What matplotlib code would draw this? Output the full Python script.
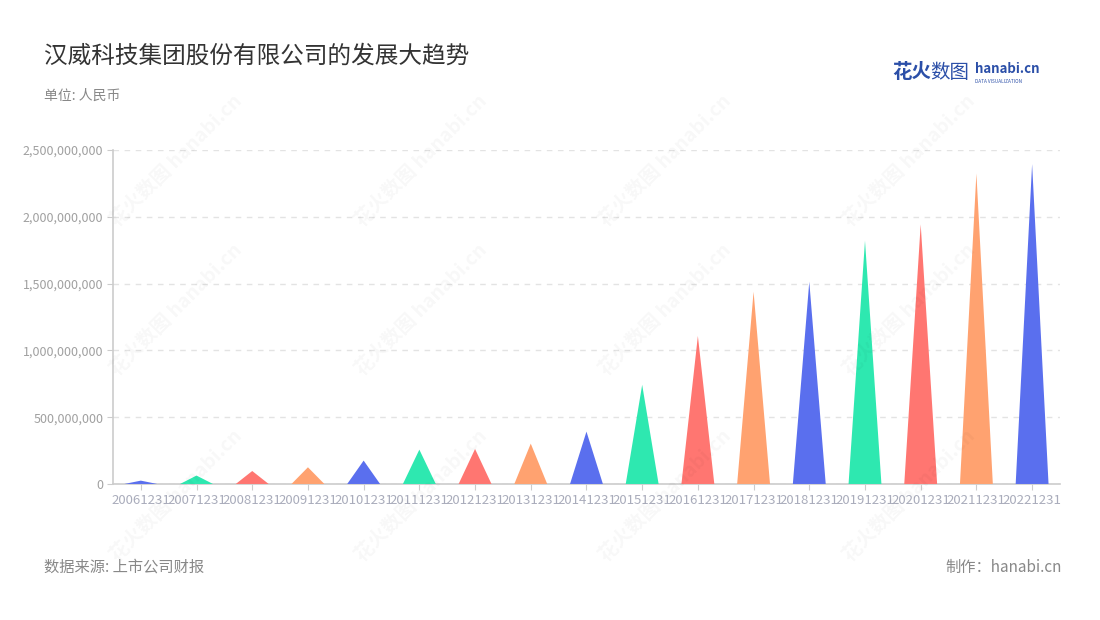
import numpy as np
import matplotlib
matplotlib.use('Agg')
import matplotlib.pyplot as plt
from matplotlib.ticker import FuncFormatter

plt.rcParams['font.family'] = ['Noto Sans CJK SC', 'DejaVu Sans']

# data
years = ['20061231', '20071231', '20081231', '20091231', '20101231', '20111231',
         '20121231', '20131231', '20141231', '20151231', '20161231', '20171231',
         '20181231', '20191231', '20201231', '20211231', '20221231']
values = [25e6, 63e6, 97e6, 125e6, 175e6, 257e6, 262e6, 302e6, 392e6,
          742e6, 1108e6, 1439e6, 1514e6, 1821e6, 1943e6, 2324e6, 2394e6]
palette = ['#5a6fee', '#2ee8b0', '#ff7671', '#ffa270']

fig = plt.figure(figsize=(11, 6.2), dpi=100)
ax = fig.add_axes([0.1027, 0.2194, 0.8609, 0.5387])

half = 0.295
for i, v in enumerate(values):
    ax.fill([i - half, i, i + half], [0, v, 0], color=palette[i % 4], lw=0, zorder=3)

ax.set_xlim(-0.5, len(years) - 0.5)
ax.set_ylim(0, 2.5e9)
ax.set_yticks(np.arange(0, 2.5e9 + 1, 5e8))
ax.yaxis.set_major_formatter(FuncFormatter(lambda v, p: f'{int(v):,}'))
ax.set_xticks(range(len(years)))
ax.set_xticklabels(years)

ax.grid(axis='y', color='#e3e3e3', linestyle=(0, (4, 4)), lw=1)
ax.set_axisbelow(True)
for s in ['top', 'right']:
    ax.spines[s].set_visible(False)
for s in ['left', 'bottom']:
    ax.spines[s].set_color('#cccccc')
    ax.spines[s].set_linewidth(1.2)
ax.tick_params(axis='y', colors='#cccccc', labelcolor='#a0a0a0', labelsize=9, length=4, pad=3)
ax.tick_params(axis='x', colors='#cccccc', labelcolor='#a9acbb', labelsize=9.5, length=4, pad=3)

# faint watermarks
for wx in [0.16, 0.383, 0.605, 0.827]:
    for wy in [0.74, 0.5, 0.2]:
        fig.text(wx, wy, '花火数图 hanabi.cn', rotation=45, fontsize=14, color='#000000',
                 alpha=0.03, ha='center', va='center', fontweight='bold')

fig.text(0.04, 0.91, '汉威科技集团股份有限公司的发展大趋势', fontsize=17, color='#333333', va='center')
fig.text(0.04, 0.846, '单位: 人民币', fontsize=10, color='#888888', va='center')
fig.text(0.04, 0.085, '数据来源: 上市公司财报', fontsize=11, color='#888888', va='center')
fig.text(0.965, 0.085, '制作：hanabi.cn', fontsize=11, color='#888888', va='center', ha='right')

# logo
fig.text(0.811, 0.883, '花火', fontsize=14, color='#2b4fa8', fontweight='bold', va='center')
fig.text(0.846, 0.883, '数图', fontsize=14, color='#2b4fa8', va='center')
fig.text(0.886, 0.888, 'hanabi.cn', fontsize=9.5, color='#2b4fa8', fontweight='bold', va='center')
fig.text(0.886, 0.869, 'DATA VISUALIZATION', fontsize=3.4, color='#2b4fa8', va='center')

fig.savefig('out.png', dpi=100)
